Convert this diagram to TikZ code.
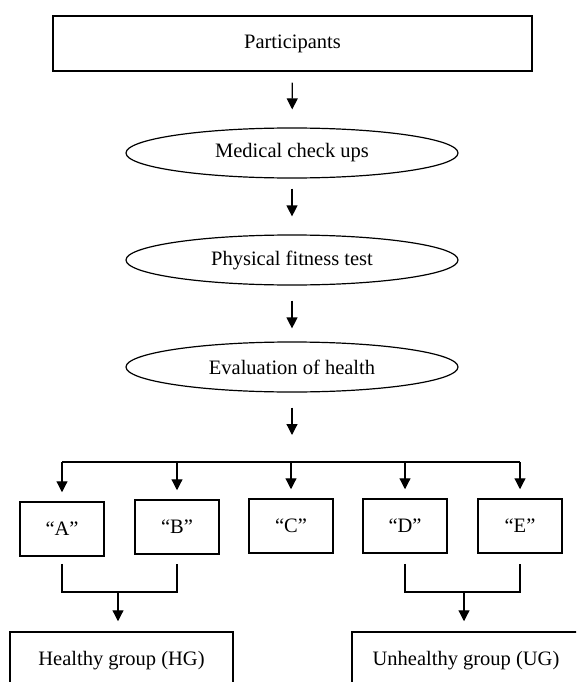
\documentclass[tikz,border=0pt]{standalone}
\usepackage{fontspec}
\setmainfont{Liberation Serif}
\usetikzlibrary{shapes.geometric,arrows.meta,calc}

\begin{document}
\begin{tikzpicture}[x=1pt,y=-1pt,
    every node/.style={font=\fontsize{20.5}{24}\selectfont},
    box/.style={draw,line width=1.5pt,inner sep=0pt},
    pick/.style={box,minimum width=84pt,minimum height=54pt},
    oval/.style={draw,ellipse,line width=1.2pt,minimum width=332pt,minimum height=50pt,inner sep=0pt},
    link/.style={line width=1.2pt},
    arr/.style={link,-{Triangle[width=11pt,length=11pt]}}]
    \useasboundingbox (0,0) rectangle (576,682);
    \clip (0,0) rectangle (576,682);

    % Steps
    \node[box,minimum width=479pt,minimum height=55pt] (part) at (292.5,43.5) {Participants};
    \node[oval] (check) at (292,153) {Medical check ups};
    \node[oval] (fit) at (292,260) {Physical fitness test};
    \node[oval] (health) at (292,367) {Evaluation of health};
    \coordinate (split) at (292,462);

    \draw[arr,shorten <=11pt,shorten >=18pt] (part) -- (check);
    \draw[arr,shorten <=10pt,shorten >=18pt] (check) -- (fit);
    \draw[arr,shorten <=15pt,shorten >=13pt] (fit) -- (health);
    \draw[arr,shorten <=15pt,shorten >=27pt] (health) -- (split);

    % Grades
    \foreach \n/\x/\y/\t in {A/62/529/“A”, B/177/527/“B”, C/291/526/“C”, D/405/526/“D”, E/520/526/“E”} {
        \node[pick] (\n) at (\x,\y) {\t};
        \draw[arr,shorten >=9pt] (\n|-split) -- (\n.north);
    }
    \draw[link] (A|-split) -- (E|-split);

    % Groups
    \node[box,minimum width=223pt,minimum height=58pt] (hg) at (121.5,661) {Healthy group (HG)};
    \node[box,minimum width=228pt,minimum height=58pt] (ug) at (466,661) {Unhealthy group (UG)};
    \coordinate (hgjoin) at (118,592);
    \coordinate (ugjoin) at (464,592);

    \draw[link,shorten <=7pt,shorten >=9pt] (A.south) |- (hgjoin) -| (B.south);
    \draw[link,shorten <=10pt,shorten >=10pt] (D.south) |- (ugjoin) -| (E.south);
    \draw[arr,shorten >=10pt] (hgjoin) -- (hgjoin|-hg.north);
    \draw[arr,shorten >=10pt] (ugjoin) -- (ugjoin|-ug.north);
\end{tikzpicture}
\end{document}
